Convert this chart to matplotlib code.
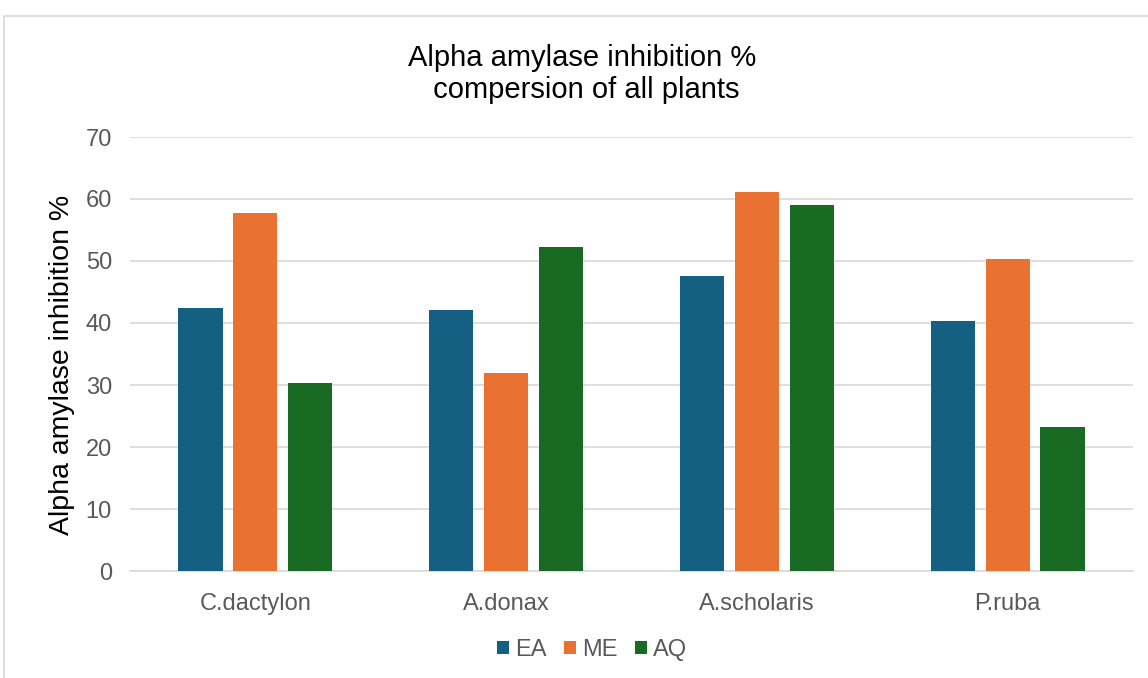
import matplotlib
matplotlib.use("Agg")
import matplotlib.pyplot as plt
from matplotlib.patches import Rectangle
import numpy as np

plt.rcParams['font.family'] = ['Liberation Sans', 'DejaVu Sans']

plants = ['C.dactylon', 'A.donax', 'A.scholaris', 'P.ruba']
ea = [42.4, 42.1, 47.5, 40.3]
me = [57.7, 32.0, 61.1, 50.4]
aq = [30.3, 52.2, 59.0, 23.3]
series = ['EA', 'ME', 'AQ']
colors = ['#156082', '#E97132', '#196B24']

W, H = 1148, 678
fig = plt.figure(figsize=(W / 100, H / 100), dpi=100)
ax = fig.add_axes([130 / W, (H - 571) / H, (1133 - 130) / W, (571 - 137) / H])

# chart frame
fig.patches.append(Rectangle((4 / W, -0.05), 1.1, 1 - 16 / H + 0.05,
                             transform=fig.transFigure, fill=False,
                             edgecolor='#D9D9D9', linewidth=1.2))

x = np.arange(len(plants))
step, width = 0.219, 0.176
for j, (vals, c) in enumerate(zip([ea, me, aq], colors)):
    ax.bar(x + (j - 1) * step, vals, width, color=c, label=series[j], zorder=3)

ax.set_xlim(-0.5, 3.5)
ax.set_ylim(0, 70)
ax.set_yticks(range(0, 71, 10))
ax.set_xticks(x)
ax.set_xticklabels(plants)
ax.yaxis.grid(True, color='#D9D9D9', linewidth=1.2, zorder=0)
for s in ['top', 'right', 'left']:
    ax.spines[s].set_visible(False)
ax.spines['bottom'].set_color('#D9D9D9')
ax.spines['bottom'].set_linewidth(1.2)
ax.tick_params(axis='both', length=0, labelsize=17, labelcolor='#595959')
ax.tick_params(axis='y', pad=13)
ax.tick_params(axis='x', pad=16)

ax.set_ylabel('Alpha amylase inhibition %', fontsize=20.5, color='#000000')
ax.yaxis.set_label_coords(-(130 - 75) / (1133 - 130), 0.475)

fig.text(582 / W, 1 - 74 / H, 'Alpha amylase inhibition %\n compersion of all plants',
         ha='center', va='center', fontsize=21, linespacing=1.2, color='#000000')

leg = fig.legend(loc='center', bbox_to_anchor=(592 / W, 1 - 650 / H), ncol=3,
                 frameon=False, fontsize=17, handlelength=0.5, handleheight=0.5,
                 handletextpad=0.25, columnspacing=0.75)
for t in leg.get_texts():
    t.set_color('#595959')

fig.savefig('out.png', dpi=100)
